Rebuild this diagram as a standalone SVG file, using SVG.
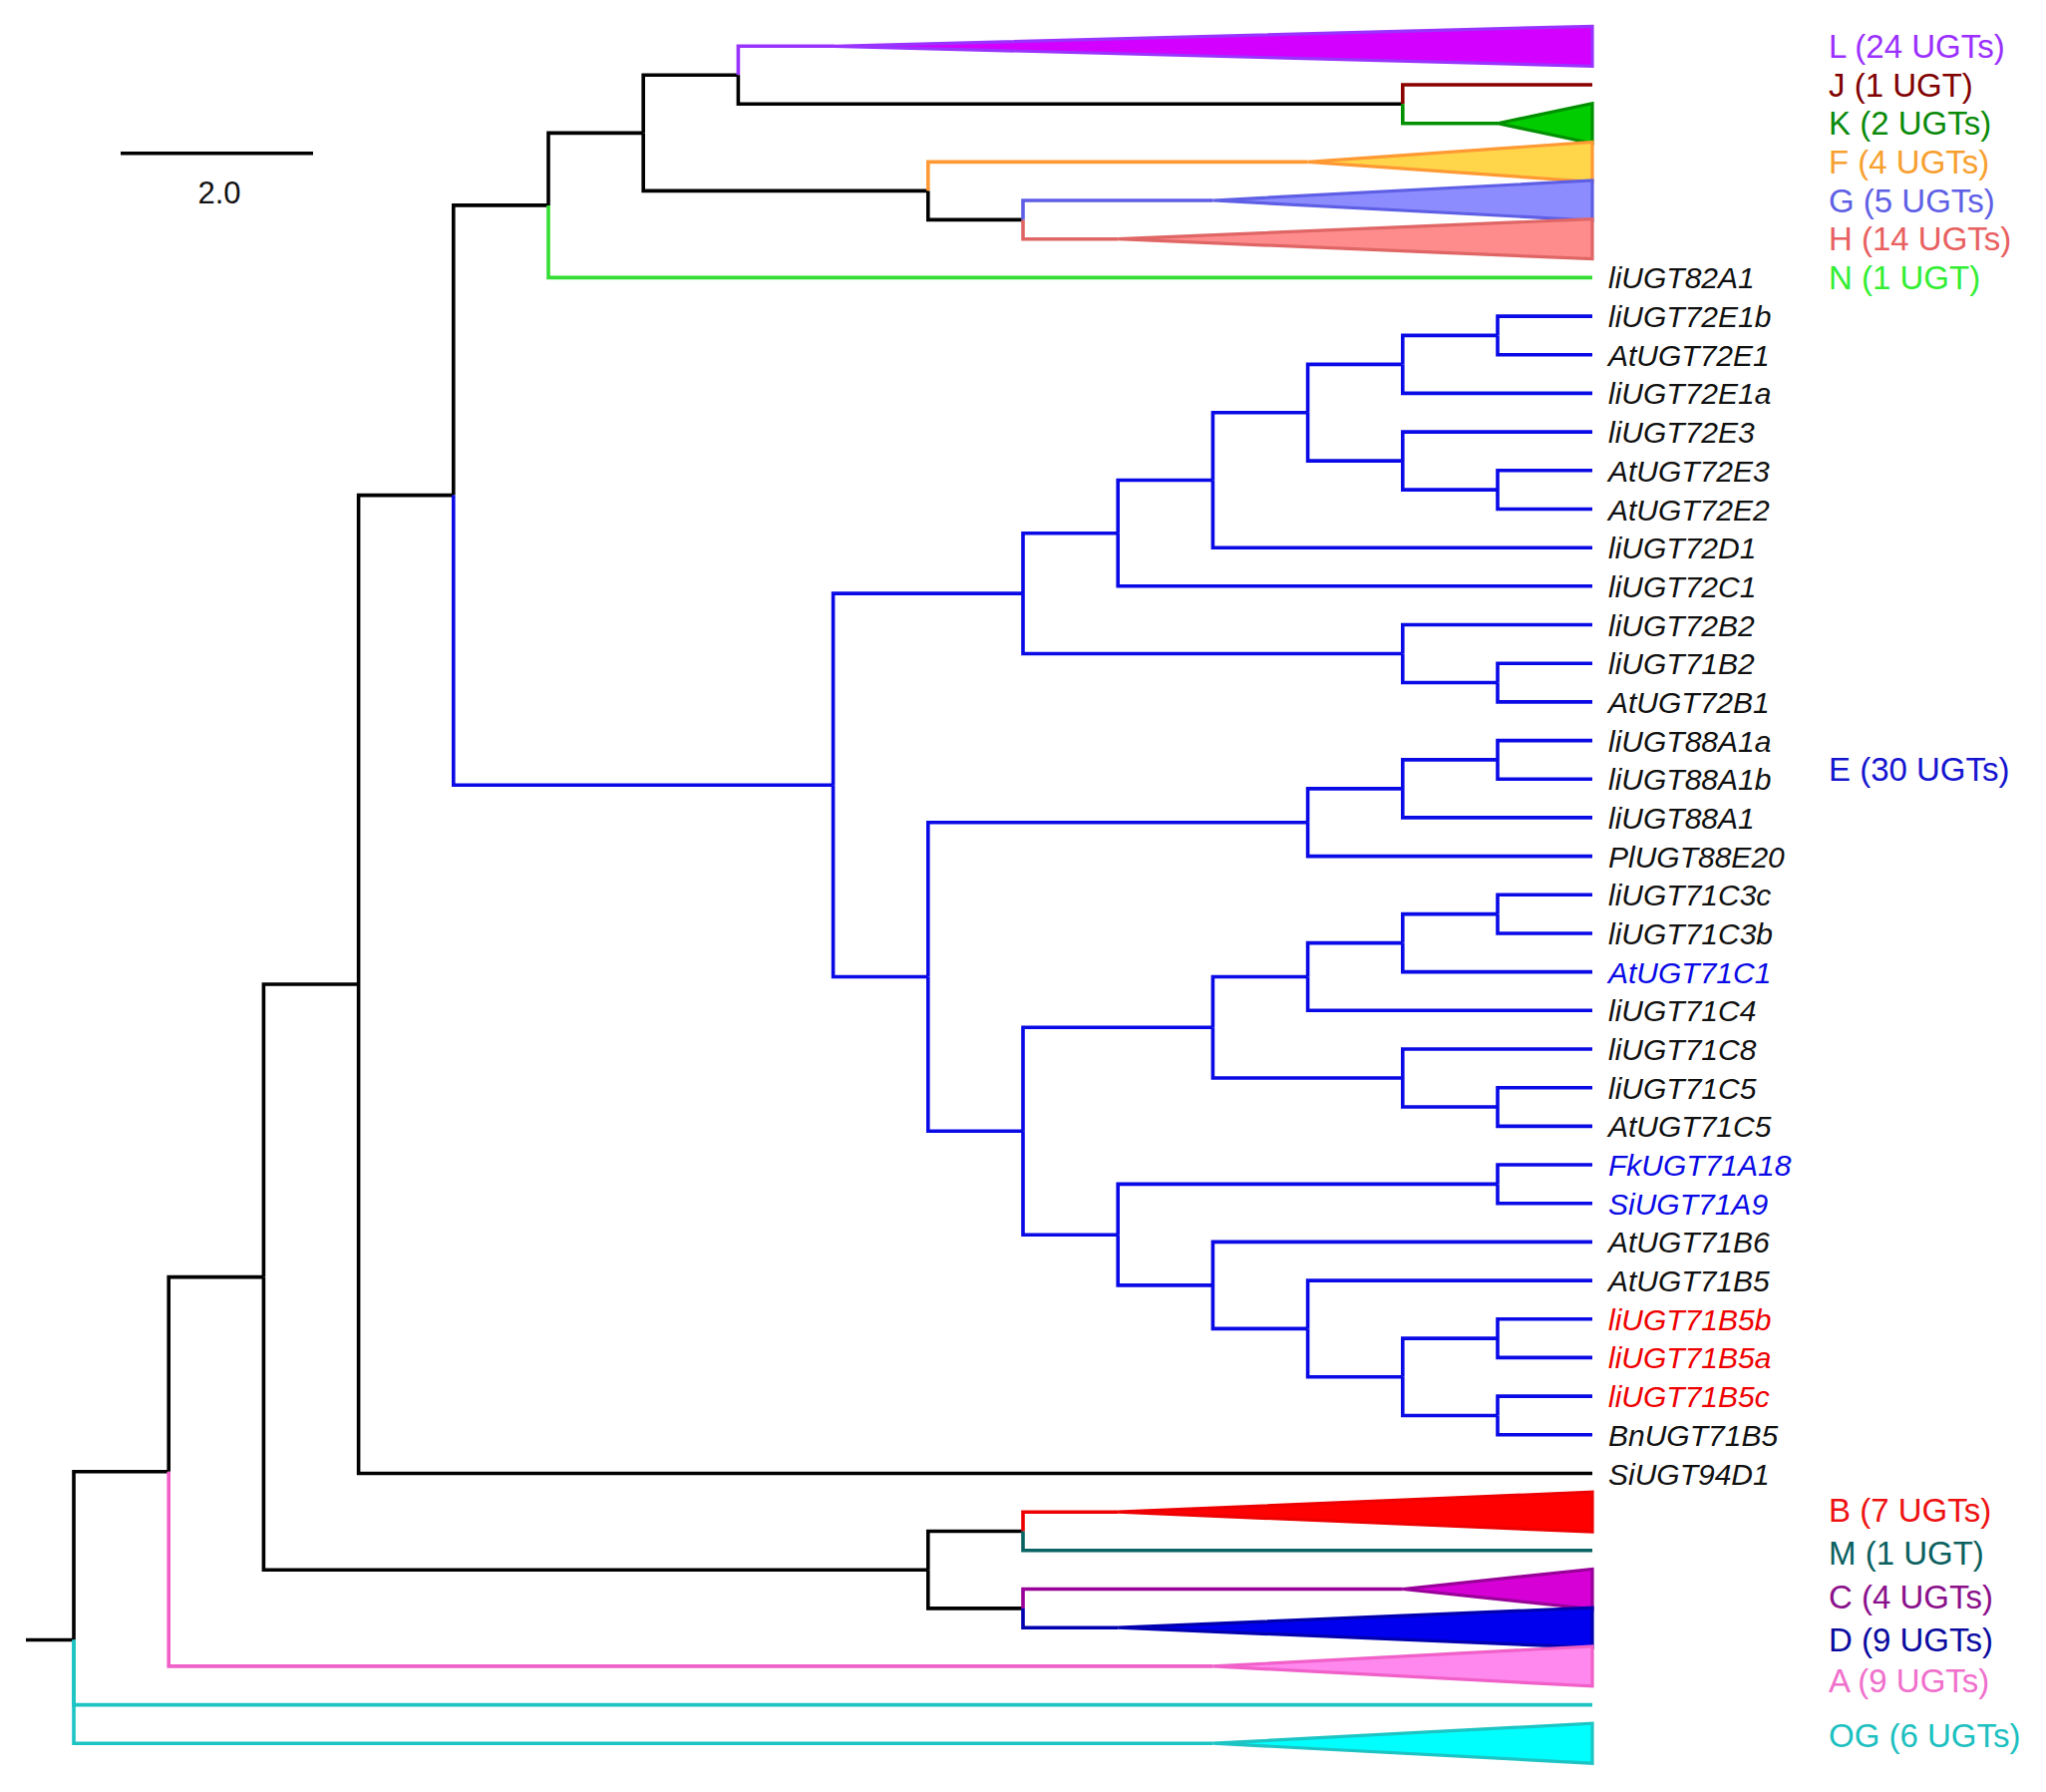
<svg xmlns="http://www.w3.org/2000/svg" width="2052" height="1797" viewBox="0 0 2052 1797">
<style>
.br{fill:none;stroke-width:3.6;stroke-linejoin:miter;stroke-linecap:butt}
.k{stroke:#000}
.e{stroke:#0a0ae6}
.cL{stroke:#9933ff}.cJ{stroke:#8b0000}.cK{stroke:#009000}.cF{stroke:#ff9933}.cG{stroke:#5f5fe6}.cH{stroke:#e06666}.cN{stroke:#33dd33}
.cB{stroke:#ee0000}.cM{stroke:#0b6262}.cC{stroke:#990099}.cD{stroke:#0000b0}.cA{stroke:#f060c8}.cOG{stroke:#1cc4c4}
.tri{stroke-width:3.2;stroke-linejoin:miter}
.leaf{font-family:"Liberation Sans",Arial,sans-serif;font-size:30px;font-style:italic;fill:#111}
.grp{font-family:"Liberation Sans",Arial,sans-serif;font-size:33px}
.blue{fill:#0a0ae6}.red{fill:#ee0000}
</style>
<rect width="2052" height="1797" fill="#fff"/>

<g id="scale-bar">
<line x1="121" y1="153.7" x2="314" y2="153.7" stroke="#000" stroke-width="3.6"/>
<text x="220" y="204" text-anchor="middle" style="font-family:'Liberation Sans',Arial,sans-serif;font-size:31px" fill="#111">2.0</text>
</g>

<g id="connectors">
<path class="br k" d="M26,1644.5 H74"/>
<path class="br k" d="M74,1644.5 V1475.7 H169.2"/>
<path class="br cOG" d="M74,1644.5 V1709.6 H1597"/>
<path class="br cOG" d="M74,1644.5 V1748.2 H1216.4"/>
<path class="br k" d="M169.2,1475.7 V1280.6 H264.4"/>
<path class="br cA" d="M169.2,1475.7 V1670.9 H1216.4"/>
<path class="br k" d="M264.4,1280.6 V987 H359.6"/>
<path class="br k" d="M264.4,1280.6 V1574.2 H930.8"/>
<path class="br k" d="M930.8,1574.2 V1535.5 H1026"/>
<path class="br k" d="M930.8,1574.2 V1612.9 H1026"/>
<path class="br cB" d="M1026,1535.5 V1516.2 H1121.2"/>
<path class="br cM" d="M1026,1535.5 V1554.8 H1597"/>
<path class="br cC" d="M1026,1612.9 V1593.5 H1406.8"/>
<path class="br cD" d="M1026,1612.9 V1632.2 H1121.2"/>
<path class="br k" d="M359.6,987 V496.6 H454.8"/>
<path class="br k" d="M359.6,987 V1477.5 H1597"/>
<path class="br k" d="M454.8,496.6 V205.9 H550"/>
<path class="br e" d="M454.8,496.6 V787.3 H835.6"/>
<path class="br k" d="M550,205.9 V133.4 H645.2"/>
<path class="br cN" d="M550,205.9 V278.4 H1597"/>
<path class="br k" d="M645.2,133.4 V75.3 H740.4"/>
<path class="br k" d="M645.2,133.4 V191.4 H930.8"/>
<path class="br cL" d="M740.4,75.3 V46.3 H837"/>
<path class="br k" d="M740.4,75.3 V104.3 H1406.8"/>
<path class="br cJ" d="M1406.8,104.3 V85 H1597"/>
<path class="br cK" d="M1406.8,104.3 V123.7 H1502"/>
<path class="br cF" d="M930.8,191.4 V162.4 H1311.6"/>
<path class="br k" d="M930.8,191.4 V220.4 H1026"/>
<path class="br cG" d="M1026,220.4 V201 H1216.4"/>
<path class="br cH" d="M1026,220.4 V239.7 H1121.2"/>
<path class="br e" d="M835.6,787.3 V595.1 H1026"/>
<path class="br e" d="M835.6,787.3 V979.5 H930.8"/>
<path class="br e" d="M1026,595.1 V534.7 H1121.2"/>
<path class="br e" d="M1026,595.1 V655.5 H1406.8"/>
<path class="br e" d="M1121.2,534.7 V481.5 H1216.4"/>
<path class="br e" d="M1121.2,534.7 V587.8 H1597"/>
<path class="br e" d="M1216.4,481.5 V413.8 H1311.6"/>
<path class="br e" d="M1216.4,481.5 V549.2 H1597"/>
<path class="br e" d="M1311.6,413.8 V365.4 H1406.8"/>
<path class="br e" d="M1311.6,413.8 V462.1 H1406.8"/>
<path class="br e" d="M1406.8,365.4 V336.4 H1502"/>
<path class="br e" d="M1406.8,365.4 V394.4 H1597"/>
<path class="br e" d="M1502,336.4 V317.1 H1597"/>
<path class="br e" d="M1502,336.4 V355.8 H1597"/>
<path class="br e" d="M1406.8,462.1 V433.1 H1597"/>
<path class="br e" d="M1406.8,462.1 V491.1 H1502"/>
<path class="br e" d="M1502,491.1 V471.8 H1597"/>
<path class="br e" d="M1502,491.1 V510.5 H1597"/>
<path class="br e" d="M1406.8,655.5 V626.5 H1597"/>
<path class="br e" d="M1406.8,655.5 V684.5 H1502"/>
<path class="br e" d="M1502,684.5 V665.2 H1597"/>
<path class="br e" d="M1502,684.5 V703.9 H1597"/>
<path class="br e" d="M930.8,979.5 V824.8 H1311.6"/>
<path class="br e" d="M930.8,979.5 V1134.2 H1026"/>
<path class="br e" d="M1311.6,824.8 V790.9 H1406.8"/>
<path class="br e" d="M1311.6,824.8 V858.6 H1597"/>
<path class="br e" d="M1406.8,790.9 V761.9 H1502"/>
<path class="br e" d="M1406.8,790.9 V819.9 H1597"/>
<path class="br e" d="M1502,761.9 V742.6 H1597"/>
<path class="br e" d="M1502,761.9 V781.2 H1597"/>
<path class="br e" d="M1026,1134.2 V1030.3 H1216.4"/>
<path class="br e" d="M1026,1134.2 V1238.2 H1121.2"/>
<path class="br e" d="M1216.4,1030.3 V979.5 H1311.6"/>
<path class="br e" d="M1216.4,1030.3 V1081 H1406.8"/>
<path class="br e" d="M1311.6,979.5 V945.6 H1406.8"/>
<path class="br e" d="M1311.6,979.5 V1013.3 H1597"/>
<path class="br e" d="M1406.8,945.6 V916.6 H1502"/>
<path class="br e" d="M1406.8,945.6 V974.6 H1597"/>
<path class="br e" d="M1502,916.6 V897.3 H1597"/>
<path class="br e" d="M1502,916.6 V936 H1597"/>
<path class="br e" d="M1406.8,1081 V1052 H1597"/>
<path class="br e" d="M1406.8,1081 V1110 H1502"/>
<path class="br e" d="M1502,1110 V1090.7 H1597"/>
<path class="br e" d="M1502,1110 V1129.4 H1597"/>
<path class="br e" d="M1121.2,1238.2 V1187.4 H1502"/>
<path class="br e" d="M1121.2,1238.2 V1288.9 H1216.4"/>
<path class="br e" d="M1502,1187.4 V1168 H1597"/>
<path class="br e" d="M1502,1187.4 V1206.7 H1597"/>
<path class="br e" d="M1216.4,1288.9 V1245.4 H1597"/>
<path class="br e" d="M1216.4,1288.9 V1332.4 H1311.6"/>
<path class="br e" d="M1311.6,1332.4 V1284.1 H1597"/>
<path class="br e" d="M1311.6,1332.4 V1380.8 H1406.8"/>
<path class="br e" d="M1406.8,1380.8 V1342.1 H1502"/>
<path class="br e" d="M1406.8,1380.8 V1419.5 H1502"/>
<path class="br e" d="M1502,1342.1 V1322.8 H1597"/>
<path class="br e" d="M1502,1342.1 V1361.4 H1597"/>
<path class="br e" d="M1502,1419.5 V1400.1 H1597"/>
<path class="br e" d="M1502,1419.5 V1438.8 H1597"/>
</g>

<g id="clade-L"><polygon class="tri cL" fill="#d400ff" points="837,46.3 1597,26.3 1597,66.3"/><text class="grp" x="1834" y="58" fill="#9b30ff">L (24 UGTs)</text></g>
<g id="clade-J"><text class="grp" x="1834" y="96.7" fill="#800000">J (1 UGT)</text></g>
<g id="clade-K"><polygon class="tri cK" fill="#00cc00" points="1502,123.7 1597,103.7 1597,143.7"/><text class="grp" x="1834" y="135.4" fill="#0a8a0a">K (2 UGTs)</text></g>
<g id="clade-F"><polygon class="tri cF" fill="#ffd54a" points="1311.6,162.4 1597,142.4 1597,182.4"/><text class="grp" x="1834" y="174" fill="#f7a030">F (4 UGTs)</text></g>
<g id="clade-G"><polygon class="tri cG" fill="#8c8cff" points="1216.4,201 1597,181 1597,221"/><text class="grp" x="1834" y="212.7" fill="#5f5fe6">G (5 UGTs)</text></g>
<g id="clade-H"><polygon class="tri cH" fill="#ff8c8c" points="1121.2,239.7 1597,219.7 1597,259.7"/><text class="grp" x="1834" y="251.4" fill="#e86060">H (14 UGTs)</text></g>
<g id="clade-N"><text class="grp" x="1834" y="290" fill="#33ee33">N (1 UGT)</text></g>
<g id="clade-E"><text class="grp" x="1834" y="783" fill="#1515d0">E (30 UGTs)</text></g>
<g id="clade-B"><polygon class="tri cB" fill="#ff0000" points="1121.2,1516.2 1597,1496.2 1597,1536.2"/><text class="grp" x="1834" y="1525.5" fill="#ee1111">B (7 UGTs)</text></g>
<g id="clade-M"><text class="grp" x="1834" y="1569" fill="#0b6060">M (1 UGT)</text></g>
<g id="clade-C"><polygon class="tri cC" fill="#d600d6" points="1406.8,1593.5 1597,1573.5 1597,1613.5"/><text class="grp" x="1834" y="1613" fill="#8b108b">C (4 UGTs)</text></g>
<g id="clade-D"><polygon class="tri cD" fill="#0000ee" points="1121.2,1632.2 1597,1612.2 1597,1652.2"/><text class="grp" x="1834" y="1656" fill="#0a0aa0">D (9 UGTs)</text></g>
<g id="clade-A"><polygon class="tri cA" fill="#ff88ee" points="1216.4,1670.9 1597,1650.9 1597,1690.9"/><text class="grp" x="1834" y="1696.5" fill="#f070cc">A (9 UGTs)</text></g>
<g id="clade-OG"><polygon class="tri cOG" fill="#00ffff" points="1216.4,1748.2 1597,1728.2 1597,1768.2"/><text class="grp" x="1834" y="1751.5" fill="#1cc0c0">OG (6 UGTs)</text></g>

<g id="leaves">
<g id="leaf-liUGT82A1"><text class="leaf" x="1613" y="289.4">liUGT82A1</text></g>
<g id="leaf-liUGT72E1b"><text class="leaf" x="1613" y="328.1">liUGT72E1b</text></g>
<g id="leaf-AtUGT72E1"><text class="leaf" x="1613" y="366.8">AtUGT72E1</text></g>
<g id="leaf-liUGT72E1a"><text class="leaf" x="1613" y="405.4">liUGT72E1a</text></g>
<g id="leaf-liUGT72E3"><text class="leaf" x="1613" y="444.1">liUGT72E3</text></g>
<g id="leaf-AtUGT72E3"><text class="leaf" x="1613" y="482.8">AtUGT72E3</text></g>
<g id="leaf-AtUGT72E2"><text class="leaf" x="1613" y="521.5">AtUGT72E2</text></g>
<g id="leaf-liUGT72D1"><text class="leaf" x="1613" y="560.2">liUGT72D1</text></g>
<g id="leaf-liUGT72C1"><text class="leaf" x="1613" y="598.8">liUGT72C1</text></g>
<g id="leaf-liUGT72B2"><text class="leaf" x="1613" y="637.5">liUGT72B2</text></g>
<g id="leaf-liUGT71B2"><text class="leaf" x="1613" y="676.2">liUGT71B2</text></g>
<g id="leaf-AtUGT72B1"><text class="leaf" x="1613" y="714.9">AtUGT72B1</text></g>
<g id="leaf-liUGT88A1a"><text class="leaf" x="1613" y="753.6">liUGT88A1a</text></g>
<g id="leaf-liUGT88A1b"><text class="leaf" x="1613" y="792.2">liUGT88A1b</text></g>
<g id="leaf-liUGT88A1"><text class="leaf" x="1613" y="830.9">liUGT88A1</text></g>
<g id="leaf-PlUGT88E20"><text class="leaf" x="1613" y="869.6">PlUGT88E20</text></g>
<g id="leaf-liUGT71C3c"><text class="leaf" x="1613" y="908.3">liUGT71C3c</text></g>
<g id="leaf-liUGT71C3b"><text class="leaf" x="1613" y="947">liUGT71C3b</text></g>
<g id="leaf-AtUGT71C1"><text class="leaf blue" x="1613" y="985.6">AtUGT71C1</text></g>
<g id="leaf-liUGT71C4"><text class="leaf" x="1613" y="1024.3">liUGT71C4</text></g>
<g id="leaf-liUGT71C8"><text class="leaf" x="1613" y="1063">liUGT71C8</text></g>
<g id="leaf-liUGT71C5"><text class="leaf" x="1613" y="1101.7">liUGT71C5</text></g>
<g id="leaf-AtUGT71C5"><text class="leaf" x="1613" y="1140.4">AtUGT71C5</text></g>
<g id="leaf-FkUGT71A18"><text class="leaf blue" x="1613" y="1179">FkUGT71A18</text></g>
<g id="leaf-SiUGT71A9"><text class="leaf blue" x="1613" y="1217.7">SiUGT71A9</text></g>
<g id="leaf-AtUGT71B6"><text class="leaf" x="1613" y="1256.4">AtUGT71B6</text></g>
<g id="leaf-AtUGT71B5"><text class="leaf" x="1613" y="1295.1">AtUGT71B5</text></g>
<g id="leaf-liUGT71B5b"><text class="leaf red" x="1613" y="1333.8">liUGT71B5b</text></g>
<g id="leaf-liUGT71B5a"><text class="leaf red" x="1613" y="1372.4">liUGT71B5a</text></g>
<g id="leaf-liUGT71B5c"><text class="leaf red" x="1613" y="1411.1">liUGT71B5c</text></g>
<g id="leaf-BnUGT71B5"><text class="leaf" x="1613" y="1449.8">BnUGT71B5</text></g>
<g id="leaf-SiUGT94D1"><text class="leaf" x="1613" y="1488.5">SiUGT94D1</text></g>
</g>
</svg>
